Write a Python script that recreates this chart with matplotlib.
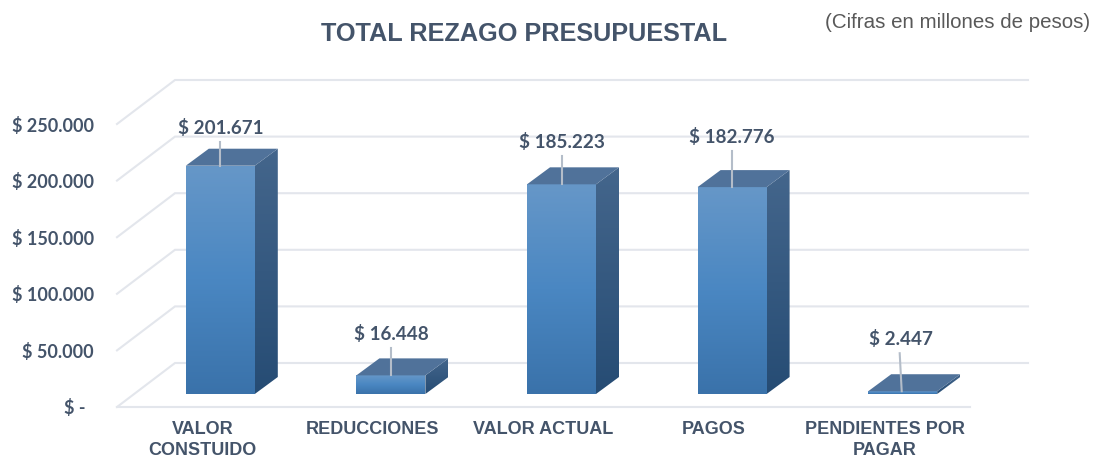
import numpy as np
import matplotlib
matplotlib.use('Agg')
import matplotlib.pyplot as plt
from matplotlib.colors import LinearSegmentedColormap
from matplotlib.patches import Polygon

categories = ['VALOR\nCONSTUIDO', 'REDUCCIONES', 'VALOR ACTUAL', 'PAGOS', 'PENDIENTES POR\nPAGAR']
values = [201671, 16448, 185223, 182776, 2447]
value_labels = ['$ 201.671', '$ 16.448', '$ 185.223', '$ 182.776', '$ 2.447']
y_ticks = [0, 50000, 100000, 150000, 200000, 250000]
y_labels = ['$ -  ', '$ 50.000', '$ 100.000', '$ 150.000', '$ 200.000', '$ 250.000']

# how far each label was dragged above its bar, in pixels
label_lift = [38, 41, 42, 50, 52]
# the last leader line leans a little to the left
leader_lean = [0, 0, 0, 0, -3]

W, H = 1093, 457
TEXT = '#44546a'
GRID = '#e3e6ec'

fig = plt.figure(figsize=(W / 100, H / 100), dpi=100)
ax = fig.add_axes([117 / W, 1 - 407 / H, 853 / W, 283 / H])
ax.set_xlim(-0.5, 4.5)
ax.set_ylim(0, 250000)

# pixel sizes turned into data units
px_x = 5 / 853
px_y = 250000 / 283


def poly_fill(pts, cmap, zorder):
    ys = [p[1] for p in pts]
    xs = [p[0] for p in pts]
    grad = np.linspace(0, 1, 256).reshape(-1, 1)
    im = ax.imshow(grad, cmap=cmap, aspect='auto', origin='upper', zorder=zorder,
                   extent=[min(xs), max(xs), min(ys), max(ys)])
    clip = Polygon(pts, closed=True, transform=ax.transData)
    im.set_clip_path(clip)


front_cmap = LinearSegmentedColormap.from_list('front', ['#6697c8', '#4a87c2', '#3a72aa'])
side_cmap = LinearSegmentedColormap.from_list('side', ['#44668c', '#264c74'])

# back wall and floor
wall_x = 58 * px_x
wall_y = 44 * px_y
for t in y_ticks:
    ax.plot([-0.5, -0.5 + wall_x, 4.5 + wall_x], [t, t + wall_y, t + wall_y],
            color=GRID, lw=1.5, clip_on=False, zorder=1, solid_joinstyle='miter')
ax.plot([-0.5, 4.5], [0, 0], color=GRID, lw=1.5, clip_on=False, zorder=1)

# bars
bar_w = 69 * px_x
dep_x = 23 * px_x
dep_y = 17 * px_y
off_x = 18 * px_x
base = 13 * px_y
for i, v in enumerate(values):
    x0 = i + off_x - bar_w / 2
    x1 = x0 + bar_w
    top = base + v
    poly_fill([(x0, base), (x1, base), (x1, top), (x0, top)], front_cmap, 3)
    poly_fill([(x1, base), (x1 + dep_x, base + dep_y), (x1 + dep_x, top + dep_y), (x1, top)], side_cmap, 3)
    ax.add_patch(Polygon([(x0, top), (x1, top), (x1 + dep_x, top + dep_y), (x0 + dep_x, top + dep_y)],
                         closed=True, facecolor='#50729a', edgecolor='none', zorder=3))
    # leader line + value label
    xc = i + off_x
    lift = label_lift[i] * px_y
    lean = leader_lean[i] * px_x
    ax.plot([xc + lean / 3, xc + lean], [top, top + lift - 14 * px_y], color='#b4bdc9', lw=1.5, zorder=4, clip_on=False)
    ax.text(xc + lean / 2, top + lift, value_labels[i], ha='center', va='center', color=TEXT,
            fontsize=13.6, fontweight='bold', family='Lato', clip_on=False, zorder=5)

ax.set_xlim(-0.5, 4.5)
ax.set_ylim(0, 250000)

ax.set_xticks(range(len(categories)))
ax.set_xticklabels(categories, family='Liberation Sans', fontweight='bold', fontsize=13,
                   color=TEXT, linespacing=1.3)
ax.set_yticks(y_ticks)
ax.set_yticklabels(y_labels, family='Lato', fontweight='bold', fontsize=13, color=TEXT)
ax.tick_params(axis='x', length=0, pad=10)
ax.tick_params(axis='y', length=0, pad=16.5)
for s in ax.spines.values():
    s.set_visible(False)

fig.text(524.5 / W, 1 - 34 / H, 'TOTAL REZAGO PRESUPUESTAL', ha='center', va='center',
         family='Liberation Sans', fontweight='bold', fontsize=18.2, color=TEXT)
fig.text(1090 / W, 1 - 22.5 / H, '(Cifras en millones de pesos)', ha='right', va='center',
         family='Liberation Sans', fontsize=14.8, color='#595959')

fig.savefig('out.png', dpi=100)
